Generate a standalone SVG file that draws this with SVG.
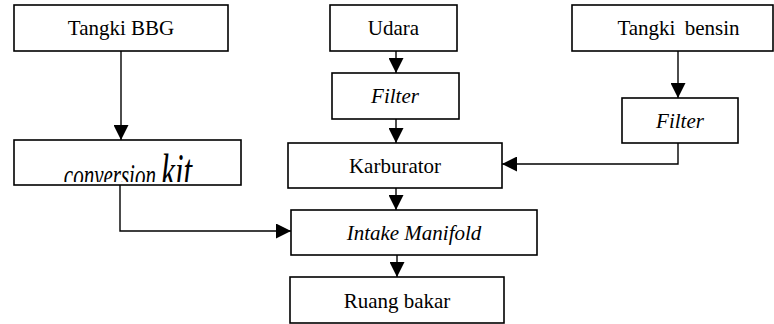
<svg xmlns="http://www.w3.org/2000/svg" width="774" height="324" viewBox="0 0 774 324">
<style>
.box{fill:#fff;stroke:#000;stroke-width:1.6}
.t{font-family:'Liberation Serif','Times New Roman',serif;font-size:21px;fill:#000;text-anchor:middle}
.i{font-style:italic}
.c{fill:none;stroke:#000;stroke-width:1.4}
</style>
<defs>
<marker id="ah" markerUnits="userSpaceOnUse" markerWidth="15" markerHeight="15" refX="15" refY="7.5" orient="auto">
<path d="M0,0 L15,7.5 L0,15 z" fill="#000"/>
</marker>
<clipPath id="ckclip"><rect x="15" y="141" width="225" height="41"/></clipPath>
</defs>
<rect width="774" height="324" fill="#fff"/>
<g id="connectors">
<path class="c" d="M121,51 V140" marker-end="url(#ah)"/>
<path class="c" d="M120,185 V231 H291" marker-end="url(#ah)"/>
<path class="c" d="M396,51 V73" marker-end="url(#ah)"/>
<path class="c" d="M396,119 V143" marker-end="url(#ah)"/>
<path class="c" d="M396,188 V210" marker-end="url(#ah)"/>
<path class="c" d="M397,255 V277" marker-end="url(#ah)"/>
<path class="c" d="M678,51 V98" marker-end="url(#ah)"/>
<path class="c" d="M678,143 V164 H502" marker-end="url(#ah)"/>
</g>
<g id="tangki-bbg">
<rect class="box" x="14" y="5" width="214" height="46"/>
<text class="t" x="121" y="35">Tangki BBG</text>
</g>
<g id="conversion-kit">
<rect class="box" x="14" y="140" width="227" height="45"/>
<g clip-path="url(#ckclip)">
<text class="t i" transform="translate(128,186) scale(1,1.5)" x="0" y="0"><tspan>conversion </tspan><tspan font-size="31">kit</tspan></text>
</g>
</g>
<g id="udara">
<rect class="box" x="330" y="5" width="127" height="46"/>
<text class="t" x="393.5" y="35">Udara</text>
</g>
<g id="filter-udara">
<rect class="box" x="332" y="73" width="127" height="46"/>
<text class="t i" x="395" y="103">Filter</text>
</g>
<g id="karburator">
<rect class="box" x="288" y="143" width="214" height="45"/>
<text class="t" x="395" y="173">Karburator</text>
</g>
<g id="tangki-bensin">
<rect class="box" x="572" y="5" width="201" height="46"/>
<text class="t" x="678.5" y="35" word-spacing="4">Tangki bensin</text>
</g>
<g id="filter-bensin">
<rect class="box" x="622" y="98" width="116" height="45"/>
<text class="t i" x="680" y="128">Filter</text>
</g>
<g id="intake-manifold">
<rect class="box" x="291" y="210" width="246" height="45"/>
<text class="t i" x="414" y="240">Intake Manifold</text>
</g>
<g id="ruang-bakar">
<rect class="box" x="290" y="277" width="214" height="46"/>
<text class="t" x="397" y="308">Ruang bakar</text>
</g>
</svg>
